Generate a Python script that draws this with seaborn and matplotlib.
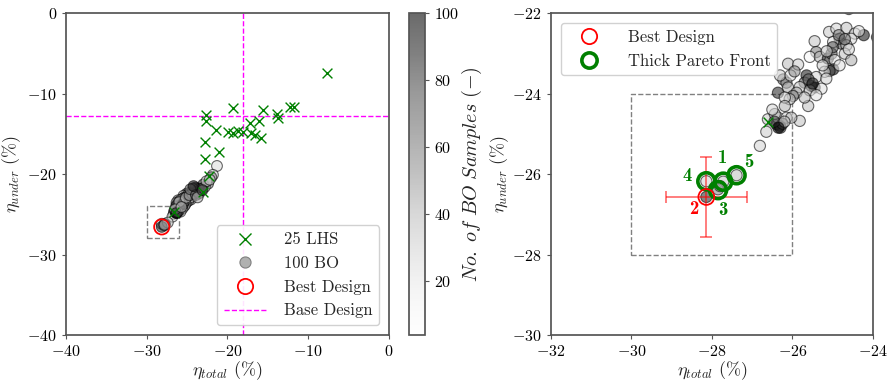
import numpy as np
import pandas as pd
import matplotlib
matplotlib.use("Agg")
import matplotlib.pyplot as plt
import seaborn as sns
from matplotlib.lines import Line2D
from matplotlib.colors import Normalize
from matplotlib.cm import ScalarMappable

# ---------------- data ----------------
lhs_total = [-7.7, -12.26, -11.8, -19.3, -15.56, -13.91, -13.71, -22.6, -22.7,
             -21.4, -19.9, -19.28, -18.66, -18.04, -17.2, -16.1, -17.1, -16.6,
             -15.9, -22.8, -22.8, -21.0, -22.3, -23.0, -26.6]
lhs_under = [-7.4, -11.72, -11.65, -11.85, -12.05, -12.6, -13.1, -12.7, -13.4,
             -14.5, -14.74, -14.94, -14.62, -14.74, -13.6, -13.4, -14.9, -15.2,
             -15.5, -16.0, -18.1, -17.3, -20.3, -22.2, -24.7]

bo_total = [-25.09, -24.91, -24.66, -24.45, -24.23, -24.83, -24.79, -24.99, -24.54, -24.66,
            -25.45, -25.41, -25.57, -25.32, -25.12, -25.03, -24.95, -24.70, -24.54, -24.99,
            -25.08, -24.83, -25.20, -26.11, -25.86, -25.65, -25.70, -25.53, -25.45, -25.41,
            -25.16, -25.82, -25.57, -25.28, -25.41, -25.61, -26.23, -26.15, -26.11, -26.31,
            -25.90, -25.99, -26.07, -26.36, -26.19, -26.19, -26.61, -26.40, -26.31, -26.36,
            -26.15, -25.82, -26.03, -26.44, -26.65, -26.81, -26.30, -26.25, -28.14, -27.72,
            -27.85, -27.39, -28.14, -27.80, -25.00, -24.60, -25.60, -26.05, -25.25, -26.45,
            -24.85, -25.50, -26.20, -24.35, -25.95, -26.50, -25.15, -24.70, -26.35, -25.70,
            -21.3, -21.8, -22.0, -22.4, -22.8, -23.0, -23.4, -23.6, -23.8, -23.5,
            -24.0, -23.2, -24.3, -24.6, -22.6, -23.9, -23.7, -24.2, -22.2, -23.1]
bo_under = [-22.47, -22.39, -22.37, -22.51, -22.55, -22.64, -22.76, -22.72, -22.64, -22.80,
            -22.70, -22.97, -23.09, -23.09, -23.13, -23.01, -23.17, -23.01, -23.17, -23.40,
            -23.44, -23.30, -23.46, -23.26, -23.28, -23.55, -23.73, -23.81, -23.85, -23.59,
            -23.63, -23.84, -23.92, -23.88, -24.04, -24.31, -23.65, -23.73, -23.85, -23.55,
            -23.98, -24.06, -24.14, -23.98, -24.10, -24.31, -24.64, -24.76, -24.80, -24.60,
            -24.60, -24.68, -24.60, -24.51, -24.95, -25.30, -24.85, -24.75, -26.18, -26.19,
            -26.38, -26.03, -26.57, -26.30, -22.85, -22.90, -23.65, -23.55, -23.30, -24.70,
            -22.55, -23.75, -24.70, -22.45, -23.45, -24.40, -22.95, -22.65, -24.85, -24.10,
            -19.0, -20.1, -20.4, -21.2, -21.6, -21.3, -22.0, -21.8, -22.2, -22.4,
            -21.7, -21.9, -21.8, -21.9, -20.9, -22.6, -22.9, -21.5, -20.7, -22.0]
bo_sample = [34, 30, 37, 32, 92, 85, 78, 26, 28, 40,
             36, 60, 10, 42, 88, 72, 22, 38, 44, 95,
             81, 24, 28, 39, 33, 90, 75, 83, 97, 30,
             31, 35, 41, 25, 23, 38, 64, 58, 43, 32,
             45, 62, 36, 86, 29, 42, 34, 93, 87, 27,
             31, 37, 40, 46, 33, 30, 79, 68, 30, 34,
             55, 38, 85, 45, 74, 28, 70, 26, 32, 76,
             58, 89, 38, 24, 54, 28, 34, 64, 98, 41,
             26, 32, 56, 62, 42, 80, 86, 91, 96, 66,
             84, 37, 76, 57, 30, 70, 45, 90, 35, 82]

best_total = [-28.14]
best_under = [-26.57]
best_err = [1.0]

base_total = -18.1
base_under = -12.85

pareto_total = [-27.72, -28.14, -27.85, -27.39]
pareto_under = [-26.19, -26.18, -26.40, -26.03]
label_total = [-27.75, -28.61, -27.72, -27.08, -28.45]
label_under = [-25.61, -26.05, -26.90, -25.71, -26.88]
label_text = ["1", "4", "3", "5", "2"]
label_color = ["green", "green", "green", "green", "red"]

box_total = [-30, -26]
box_under = [-28, -24]

lhs = pd.DataFrame({"total": lhs_total, "under": lhs_under})
bo = pd.DataFrame({"total": bo_total, "under": bo_under, "sample": bo_sample})

# ---------------- style ----------------
sns.set_theme(style="ticks")
plt.rcParams["font.family"] = ["serif"]
plt.rcParams["font.serif"] = ["cmr10", "DejaVu Serif"]
plt.rcParams["mathtext.fontset"] = "cm"
plt.rcParams["axes.formatter.use_mathtext"] = True
plt.rcParams["axes.edgecolor"] = "#555555"
plt.rcParams["xtick.color"] = "#555555"
plt.rcParams["ytick.color"] = "#555555"
plt.rcParams["xtick.labelcolor"] = "black"
plt.rcParams["ytick.labelcolor"] = "black"

FS = 11.5
LFS = 13
ALPHA = 0.58
norm = Normalize(vmin=4, vmax=100)
cmap = "Greys"

fig = plt.figure(figsize=(8.94, 3.82), dpi=100)
ax1 = fig.add_axes([0.0738, 0.1230, 0.3613, 0.8429])
cax = fig.add_axes([0.4578, 0.1230, 0.0179, 0.8429])
ax2 = fig.add_axes([0.6163, 0.1230, 0.3602, 0.8429])

# ---------------- left panel ----------------
sns.scatterplot(data=bo, x="total", y="under", hue="sample", palette=cmap,
                hue_norm=norm, alpha=ALPHA, edgecolor="black", linewidth=0.8,
                s=60, legend=False, ax=ax1, zorder=2)
sns.scatterplot(data=lhs, x="total", y="under", marker="x", color="green",
                s=50, linewidth=1.0, legend=False, ax=ax1, zorder=3)
ax1.scatter(best_total, best_under, s=120, facecolors="none", edgecolors="red",
            linewidths=1.3, zorder=4)
ax1.axvline(base_total, color="magenta", ls="--", lw=1.0, zorder=1)
ax1.axhline(base_under, color="magenta", ls="--", lw=1.0, zorder=1)
ax1.plot([box_total[0], box_total[1], box_total[1], box_total[0], box_total[0]],
         [box_under[0], box_under[0], box_under[1], box_under[1], box_under[0]],
         color="gray", ls="--", lw=1.0, zorder=1)
ax1.set_xlim(-40, 0)
ax1.set_ylim(-40, 0)
ax1.set_xticks([-40, -30, -20, -10, 0])
ax1.set_yticks([-40, -30, -20, -10, 0])
ax1.set_xlabel(r"$\eta_{total}\ (\%)$", fontsize=LFS, labelpad=0)
ax1.set_ylabel(r"$\eta_{under}\ (\%)$", fontsize=LFS, labelpad=3)
ax1.tick_params(labelsize=FS, length=3, width=0.8)

h1 = [Line2D([], [], ls="none", marker="x", color="green", markersize=8, mew=1.0),
      Line2D([], [], ls="none", marker="o", markerfacecolor="#b0b0b0",
             markeredgecolor="#808080", markersize=8, mew=0.8),
      Line2D([], [], ls="none", marker="o", markerfacecolor="none",
             markeredgecolor="red", markersize=11, mew=1.3),
      Line2D([], [], ls="--", color="magenta", lw=1.0)]
ax1.legend(h1, ["25 LHS", "100 BO", "Best Design", "Base Design"], loc="lower right",
           fontsize=FS + 0.5, handlelength=2.6, handletextpad=1.0, labelspacing=0.5,
           borderaxespad=0.6, fancybox=True, framealpha=0.9)

# colorbar
sm = ScalarMappable(norm=norm, cmap=cmap)
cb = fig.colorbar(sm, cax=cax, alpha=ALPHA)
cb.set_ticks([20, 40, 60, 80, 100])
cb.ax.tick_params(labelsize=FS, length=3, width=0.8)
cb.outline.set_edgecolor("#555555")
cb.set_label(r"$No.\ of\ BO\ Samples\ (-)$", fontsize=14.5, labelpad=0)

# ---------------- right panel ----------------
sns.scatterplot(data=bo, x="total", y="under", hue="sample", palette=cmap,
                hue_norm=norm, alpha=ALPHA, edgecolor="black", linewidth=0.8,
                s=65, legend=False, ax=ax2, zorder=2)
sns.scatterplot(data=lhs, x="total", y="under", marker="x", color="green",
                s=50, linewidth=1.0, legend=False, ax=ax2, zorder=3)
ax2.plot([box_total[0], box_total[1], box_total[1], box_total[0], box_total[0]],
         [box_under[0], box_under[0], box_under[1], box_under[1], box_under[0]],
         color="gray", ls="--", lw=1.0, zorder=1)
ax2.errorbar(best_total, best_under, xerr=best_err, yerr=best_err, fmt="none",
             ecolor="red", alpha=0.55, elinewidth=1.3, capsize=4, capthick=1.3, zorder=3)
ax2.scatter(pareto_total, pareto_under, s=150, facecolors="none", edgecolors="green",
            linewidths=2.6, zorder=4)
ax2.scatter(best_total, best_under, s=130, facecolors="none", edgecolors="red",
            linewidths=1.3, zorder=5)
for tx, ty, tt, tc in zip(label_total, label_under, label_text, label_color):
    ax2.text(tx, ty, tt, color=tc, fontsize=FS + 2, family=["cmb10", "DejaVu Serif"],
             ha="center", va="center", zorder=6)
ax2.set_xlim(-32, -24)
ax2.set_ylim(-30, -22)
ax2.set_xticks([-32, -30, -28, -26, -24])
ax2.set_yticks([-30, -28, -26, -24, -22])
ax2.set_xlabel(r"$\eta_{total}\ (\%)$", fontsize=LFS, labelpad=0)
ax2.set_ylabel(r"$\eta_{under}\ (\%)$", fontsize=LFS)
ax2.yaxis.set_label_coords(-0.125, 0.5)
ax2.tick_params(labelsize=FS, length=3, width=0.8)

h2 = [Line2D([], [], ls="none", marker="o", markerfacecolor="none",
             markeredgecolor="red", markersize=11, mew=1.3),
      Line2D([], [], ls="none", marker="o", markerfacecolor="none",
             markeredgecolor="green", markersize=11, mew=2.6)]
ax2.legend(h2, ["Best Design", "Thick Pareto Front"], loc="upper left",
           fontsize=FS + 0.5, handlelength=2.6, handletextpad=1.0, labelspacing=0.5,
           borderaxespad=0.6, fancybox=True, framealpha=0.9)

fig.savefig("out.png", dpi=100)
